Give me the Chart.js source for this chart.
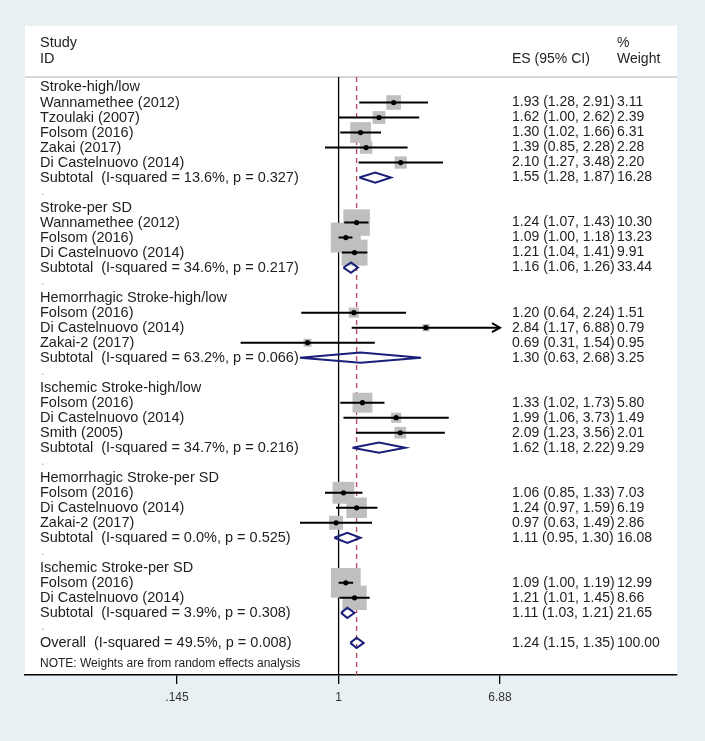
<!DOCTYPE html>
<html>
<head>
<meta charset="utf-8">
<script src="https://cdn.jsdelivr.net/npm/chart.js@4.4.1/dist/chart.umd.min.js"></script>
<style>
  html, body { margin: 0; padding: 0; background: #e8f0f3; }
  #wrap { width: 705px; height: 741px; }
</style>
</head>
<body>
<div id="wrap"><canvas id="c" width="705" height="741"></canvas></div>
<script>
// ---------------- DATA ----------------
const xTickValues = [0.145, 1, 6.88];
const overallES = 1.24;

const rowLabels = [
  "Stroke-high/low",
  "Wannamethee (2012)",
  "Tzoulaki (2007)",
  "Folsom (2016)",
  "Zakai (2017)",
  "Di Castelnuovo (2014)",
  "Subtotal  (I-squared = 13.6%, p = 0.327)",
  ".",
  "Stroke-per SD",
  "Wannamethee (2012)",
  "Folsom (2016)",
  "Di Castelnuovo (2014)",
  "Subtotal  (I-squared = 34.6%, p = 0.217)",
  ".",
  "Hemorrhagic Stroke-high/low",
  "Folsom (2016)",
  "Di Castelnuovo (2014)",
  "Zakai-2 (2017)",
  "Subtotal  (I-squared = 63.2%, p = 0.066)",
  ".",
  "Ischemic Stroke-high/low",
  "Folsom (2016)",
  "Di Castelnuovo (2014)",
  "Smith (2005)",
  "Subtotal  (I-squared = 34.7%, p = 0.216)",
  ".",
  "Hemorrhagic Stroke-per SD",
  "Folsom (2016)",
  "Di Castelnuovo (2014)",
  "Zakai-2 (2017)",
  "Subtotal  (I-squared = 0.0%, p = 0.525)",
  ".",
  "Ischemic Stroke-per SD",
  "Folsom (2016)",
  "Di Castelnuovo (2014)",
  "Subtotal  (I-squared = 3.9%, p = 0.308)",
  ".",
  "Overall  (I-squared = 49.5%, p = 0.008)"
];

const rowKind = [
  "group","study","study","study","study","study","pooled","blank",
  "group","study","study","study","pooled","blank",
  "group","study","study","study","pooled","blank",
  "group","study","study","study","pooled","blank",
  "group","study","study","study","pooled","blank",
  "group","study","study","pooled","blank",
  "pooled"
];

const esValues = [
  null, 1.93, 1.62, 1.30, 1.39, 2.10, 1.55, null,
  null, 1.24, 1.09, 1.21, 1.16, null,
  null, 1.20, 2.84, 0.69, 1.30, null,
  null, 1.33, 1.99, 2.09, 1.62, null,
  null, 1.06, 1.24, 0.97, 1.11, null,
  null, 1.09, 1.21, 1.11, null,
  1.24
];

const ciLower = [
  null, 1.28, 1.00, 1.02, 0.85, 1.27, 1.28, null,
  null, 1.07, 1.00, 1.04, 1.06, null,
  null, 0.64, 1.17, 0.31, 0.63, null,
  null, 1.02, 1.06, 1.23, 1.18, null,
  null, 0.85, 0.97, 0.63, 0.95, null,
  null, 1.00, 1.01, 1.03, null,
  1.15
];

const ciUpper = [
  null, 2.91, 2.62, 1.66, 2.28, 3.48, 1.87, null,
  null, 1.43, 1.18, 1.41, 1.26, null,
  null, 2.24, 6.88, 1.54, 2.68, null,
  null, 1.73, 3.73, 3.56, 2.22, null,
  null, 1.33, 1.59, 1.49, 1.30, null,
  null, 1.19, 1.45, 1.21, null,
  1.35
];

const weights = [
  null, 3.11, 2.39, 6.31, 2.28, 2.20, 16.28, null,
  null, 10.30, 13.23, 9.91, 33.44, null,
  null, 1.51, 0.79, 0.95, 3.25, null,
  null, 5.80, 1.49, 2.01, 9.29, null,
  null, 7.03, 6.19, 2.86, 16.08, null,
  null, 12.99, 8.66, 21.65, null,
  100.00
];

const headerTexts = { study: "Study", id: "ID", es: "ES (95% CI)", pct: "%", weight: "Weight" };
const noteText = "NOTE: Weights are from random effects analysis";

// ---------------- BUILD DATASETS ----------------
const studyIdx = rowKind.map((k, i) => k === "study" ? i : -1).filter(i => i >= 0);
const pooledIdx = rowKind.map((k, i) => k === "pooled" ? i : -1).filter(i => i >= 0);

const HEADER_ROW = -0.7;
const Y_MIN = -4.097, Y_MAX = 39.14;
const X_MIN = 0.02358, X_MAX = 57.04;

const boxData = studyIdx.map(i => ({ x: esValues[i], y: i }));
const boxRadius = studyIdx.map(i => 8.25 * Math.sqrt(weights[i]) / Math.SQRT2);

const ciData = [];
studyIdx.forEach(i => {
  ciData.push({ x: ciLower[i], y: i });
  ciData.push({ x: ciUpper[i], y: i });
  ciData.push({ x: NaN, y: NaN });
});

const dotData = studyIdx.map(i => ({ x: esValues[i], y: i }));

const diamondHalf = 0.34;
const diamondData = [];
pooledIdx.forEach(i => {
  diamondData.push({ x: ciLower[i], y: i });
  diamondData.push({ x: esValues[i], y: i - diamondHalf });
  diamondData.push({ x: ciUpper[i], y: i });
  diamondData.push({ x: esValues[i], y: i + diamondHalf });
  diamondData.push({ x: ciLower[i], y: i });
  diamondData.push({ x: NaN, y: NaN });
});

const FONT = "'Liberation Sans', Arial, sans-serif";

const forestPlugin = {
  id: 'forest',
  beforeDraw(chart) {
    const { ctx, chartArea: a } = chart;
    ctx.save();
    ctx.fillStyle = '#ffffff';
    ctx.fillRect(a.left, a.top, a.right - a.left, a.bottom - a.top);
    ctx.restore();
  },
  beforeDatasetsDraw(chart) {
    const { ctx, chartArea: a, scales } = chart;
    const yH = scales.y.getPixelForValue(HEADER_ROW);
    ctx.save();
    ctx.strokeStyle = '#c8c8c8';
    ctx.lineWidth = 1.5;
    ctx.beginPath();
    ctx.moveTo(a.left, yH);
    ctx.lineTo(a.right, yH);
    ctx.stroke();
    ctx.restore();
  },
  afterDatasetsDraw(chart) {
    const { ctx, chartArea: a, scales } = chart;
    const xs = scales.x, ys = scales.y;
    ctx.save();
    // arrows for truncated CIs
    const xMaxShown = xTickValues[xTickValues.length - 1];
    studyIdx.forEach(i => {
      if (ciUpper[i] >= xMaxShown) {
        const px = xs.getPixelForValue(ciUpper[i]);
        const py = ys.getPixelForValue(i);
        ctx.strokeStyle = '#000';
        ctx.lineWidth = 2;
        ctx.beginPath();
        ctx.moveTo(px - 8, py - 4.5);
        ctx.lineTo(px, py);
        ctx.lineTo(px - 8, py + 4.5);
        ctx.stroke();
      }
    });
    // texts
    const leftX = a.left + 15;
    const esX = 512;
    const wX = 617;
    ctx.fillStyle = '#1e1e1e';
    ctx.textBaseline = 'middle';
    ctx.textAlign = 'left';
    ctx.font = '14.5px ' + FONT;
    ctx.fillText(headerTexts.study, leftX, 43);
    ctx.fillText(headerTexts.id, leftX, 59);
    ctx.font = '14px ' + FONT;
    ctx.fillText(headerTexts.es, esX, 59);
    ctx.fillText(headerTexts.pct, wX, 43);
    ctx.fillText(headerTexts.weight, wX, 59);

    rowLabels.forEach((lab, i) => {
      const py = ys.getPixelForValue(i);
      ctx.font = '14.5px ' + FONT;
      if (rowKind[i] === 'blank') {
        ctx.fillStyle = '#aaa';
        ctx.font = '12px ' + FONT;
        ctx.fillText(lab, leftX + 1, py - 1);
        ctx.fillStyle = '#1e1e1e';
        return;
      }
      ctx.fillText(lab, leftX, py);
      if (esValues[i] != null) {
        ctx.font = '14px ' + FONT;
        const s = esValues[i].toFixed(2) + ' (' + ciLower[i].toFixed(2) + ', ' + ciUpper[i].toFixed(2) + ')';
        ctx.fillText(s, esX, py);
        ctx.fillText(weights[i].toFixed(2), wX, py);
      }
    });
    ctx.font = '12px ' + FONT;
    ctx.fillText(noteText, leftX, ys.getPixelForValue(38.4));
    ctx.restore();
  }
};

new Chart(document.getElementById('c'), {
  type: 'scatter',
  data: {
    datasets: [
      {
        label: 'dots', data: dotData, order: 1,
        pointStyle: 'circle', pointRadius: 2.6, backgroundColor: '#000', borderColor: '#000', borderWidth: 0
      },
      {
        label: 'ci', data: ciData, order: 2, showLine: true, spanGaps: false,
        borderColor: '#000', borderWidth: 2, pointRadius: 0
      },
      {
        label: 'pooled', data: diamondData, order: 3, showLine: true, spanGaps: false,
        borderColor: '#1a1f7a', borderWidth: 2, pointRadius: 0, fill: false
      },
      {
        label: 'boxes', data: boxData, order: 4,
        pointStyle: 'rect', pointRadius: boxRadius, backgroundColor: '#bfbfbf', borderWidth: 0
      },
      {
        label: 'null', data: [{ x: 1, y: HEADER_ROW }, { x: 1, y: Y_MAX }], order: 6, showLine: true,
        borderColor: '#000', borderWidth: 1.3, pointRadius: 0
      },
      {
        label: 'overall', data: [{ x: overallES, y: HEADER_ROW }, { x: overallES, y: Y_MAX }], order: 5, showLine: true,
        borderColor: '#b8475c', borderWidth: 1.3, borderDash: [5, 4], pointRadius: 0
      }
    ]
  },
  options: {
    responsive: false,
    animation: false,
    events: [],
    layout: { padding: { left: 25, right: 28, top: 26, bottom: 0 } },
    plugins: { legend: { display: false }, tooltip: { enabled: false } },
    scales: {
      x: {
        type: 'logarithmic',
        min: X_MIN, max: X_MAX,
        afterBuildTicks(scale) { scale.ticks = xTickValues.map(v => ({ value: v })); },
        afterFit(scale) { scale.height = 66; },
        ticks: {
          autoSkip: false, maxRotation: 0, padding: 6,
          color: '#333', font: { family: FONT, size: 12 },
          callback: (v) => v < 1 ? String(v).replace(/^0/, '') : String(v)
        },
        grid: { drawOnChartArea: false, drawTicks: true, tickLength: 9, color: '#000', lineWidth: 1.3 },
        border: { display: true, color: '#000', width: 1.5 }
      },
      y: {
        type: 'linear', reverse: true, min: Y_MIN, max: Y_MAX, display: false
      }
    }
  },
  plugins: [forestPlugin]
});
</script>
</body>
</html>
